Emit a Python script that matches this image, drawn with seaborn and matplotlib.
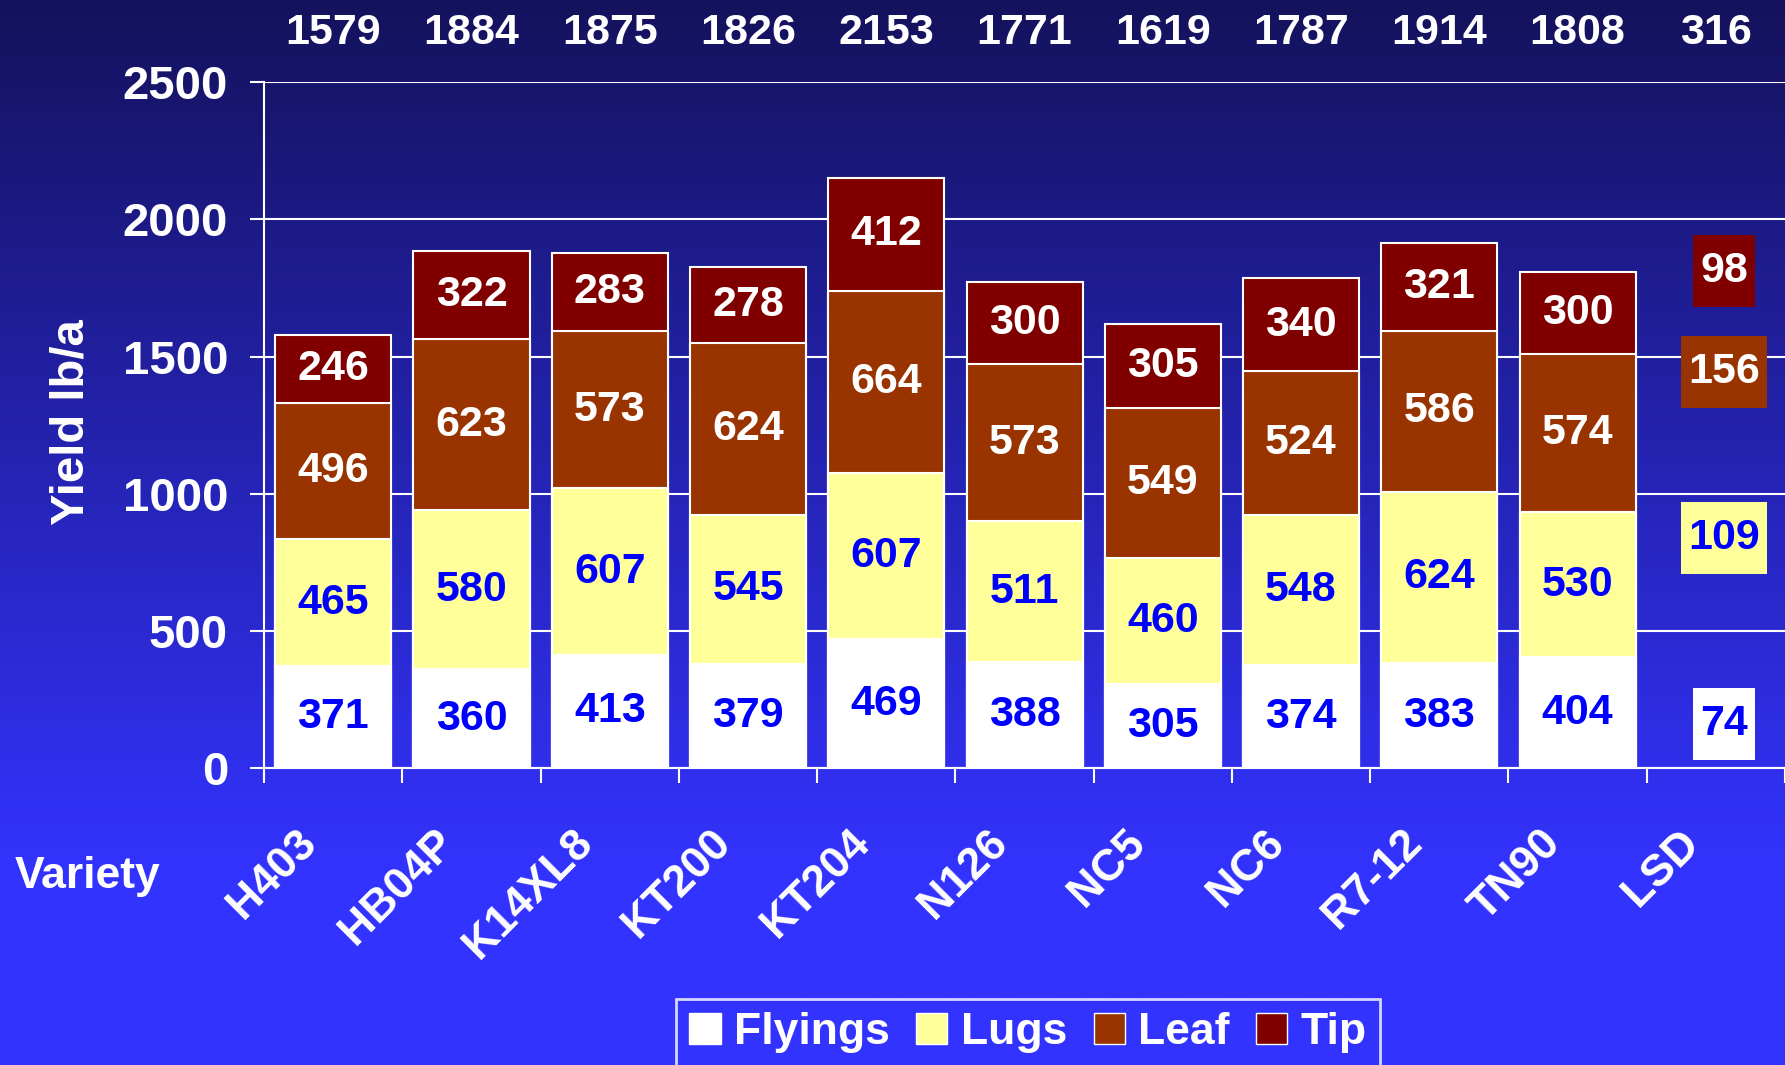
import numpy as np
import pandas as pd
import matplotlib
matplotlib.use('Agg')
import matplotlib.pyplot as plt
from matplotlib.patches import Patch, Rectangle
import seaborn as sns

varieties = ['H403', 'HB04P', 'K14XL8', 'KT200', 'KT204', 'N126', 'NC5', 'NC6', 'R7-12', 'TN90']
flyings = [371, 360, 413, 379, 469, 388, 305, 374, 383, 404]
lugs = [465, 580, 607, 545, 607, 511, 460, 548, 624, 530]
leaf = [496, 623, 573, 624, 664, 573, 549, 524, 586, 574]
tip = [246, 322, 283, 278, 412, 300, 305, 340, 321, 300]
totals = [1579, 1884, 1875, 1826, 2153, 1771, 1619, 1787, 1914, 1808]

# LSD column: flyings, lugs, leaf, tip and its total
lsd_values = [74, 109, 156, 98]
lsd_total = 316
lsd_label_y = [162, 837, 1443, 1812]

grades = ['Flyings', 'Lugs', 'Leaf', 'Tip']
colors = ['#FFFFFF', '#FFFF99', '#993300', '#800000']
label_colors = ['#0000FF', '#0000FF', '#FFFFFF', '#FFFFFF']

sns.set_theme(style='white')
plt.rcParams['font.family'] = ['Liberation Sans', 'DejaVu Sans']
plt.rcParams['font.weight'] = 'bold'

df = pd.DataFrame({'Variety': varieties, 'Flyings': flyings, 'Lugs': lugs,
                   'Leaf': leaf, 'Tip': tip})
cum = df[grades].cumsum(axis=1)
cum['Variety'] = df['Variety']
order = varieties + ['LSD']

fig = plt.figure(figsize=(17.85, 10.65), dpi=100)

# gradient background
bg = fig.add_axes([0, 0, 1, 1], zorder=-5)
t = np.clip(np.linspace(0, 1, 400) / 0.82, 0, 1)
top_c = np.array([0.08, 0.07, 0.36])
bot_c = np.array([0.20, 0.20, 1.0])
grad = top_c[None, :] * (1 - t[:, None]) + bot_c[None, :] * t[:, None]
bg.imshow(grad[:, None, :], aspect='auto', extent=[0, 1, 0, 1])
bg.set_axis_off()

ax = fig.add_axes([0.148, 0.2788, 0.852, 0.644])
ax.set_facecolor('none')

for g, c in zip(reversed(grades), reversed(colors)):
    sns.barplot(data=cum, x='Variety', y=g, order=order, color=c, saturation=1,
                width=0.84, edgecolor='white', linewidth=1.5, errorbar=None, ax=ax,
                zorder=3)

lsd_texts = []
for gi, g in enumerate(grades):
    for i in range(len(varieties)):
        v = df[g].iloc[i]
        mid = cum[g].iloc[i] - v / 2
        ax.text(i, mid, str(v), ha='center', va='center', fontsize=31,
                fontweight='bold', color=label_colors[gi], zorder=5)
    lt = ax.text(len(varieties) + 0.06, lsd_label_y[gi], str(lsd_values[gi]),
                 ha='center', va='center', fontsize=31, fontweight='bold',
                 color=label_colors[gi], zorder=5)
    lsd_texts.append(lt)

xtr = ax.get_xaxis_transform()
for i, tot in enumerate(totals + [lsd_total]):
    ax.text(i, 1.072, str(tot), transform=xtr, ha='center', va='center',
            fontsize=31, fontweight='bold', color='white', clip_on=False)

for i, name in enumerate(order):
    ax.text(i - 0.17, -0.10, name, transform=xtr, ha='right', va='center',
            rotation=45, rotation_mode='anchor', fontsize=32, fontweight='bold',
            color='white', clip_on=False)

ax.set_xlim(-0.5, len(order) - 0.5)
ax.set_xticks(np.arange(-0.5, len(order), 1))
ax.set_xticklabels([])
ax.tick_params(axis='x', which='major', length=11, width=1.5, color='white',
               direction='out', bottom=True)

ax.set_ylim(0, 2500)
ax.set_yticks(np.arange(0, 2501, 500))
ax.set_yticklabels([str(v) for v in range(0, 2501, 500)], fontsize=34,
                   fontweight='bold', color='white')
ax.tick_params(axis='y', length=10, width=1.5, color='white', direction='out',
               left=True, pad=16)

ax.set_axisbelow(True)
ax.yaxis.grid(True, color='white', linewidth=1.5)
ax.xaxis.grid(False)
for s in ['top', 'right']:
    ax.spines[s].set_visible(False)
for s in ['left', 'bottom']:
    ax.spines[s].set_color('white')
    ax.spines[s].set_linewidth(1.5)
ax.set_xlabel('')
ax.set_ylabel('')

# coloured boxes behind the LSD labels
renderer = fig.canvas.get_renderer()
inv = ax.transData.inverted()
for lt, c in zip(lsd_texts, colors):
    bb = lt.get_window_extent(renderer)
    cy = (bb.y0 + bb.y1) / 2
    x0, y0 = inv.transform((bb.x0 - 7, cy - 36))
    x1, y1 = inv.transform((bb.x1 + 7, cy + 36))
    ax.add_patch(Rectangle((x0, y0), x1 - x0, y1 - y0, facecolor=c,
                           edgecolor='none', zorder=4))

fig.text(0.040, 0.604, 'Yield lb/a', rotation=90, ha='center', va='center',
         fontsize=34, fontweight='bold', color='white')
fig.text(0.008, 0.177, 'Variety', ha='left', va='center', fontsize=32,
         fontweight='bold', color='white')

handles = [Patch(facecolor=c, edgecolor='white', linewidth=1) for c in colors]
leg = fig.legend(handles, grades, loc='upper center', bbox_to_anchor=(0.576, 0.062),
                 ncol=4, frameon=True, fancybox=False, edgecolor='white',
                 facecolor='none', prop=dict(size=32, weight='bold'),
                 labelcolor='white', handlelength=0.7, handleheight=0.7,
                 handletextpad=0.3, columnspacing=0.6, borderpad=0.3,
                 borderaxespad=0)
leg.get_frame().set_linewidth(2)

fig.savefig('out.png', dpi=100)
